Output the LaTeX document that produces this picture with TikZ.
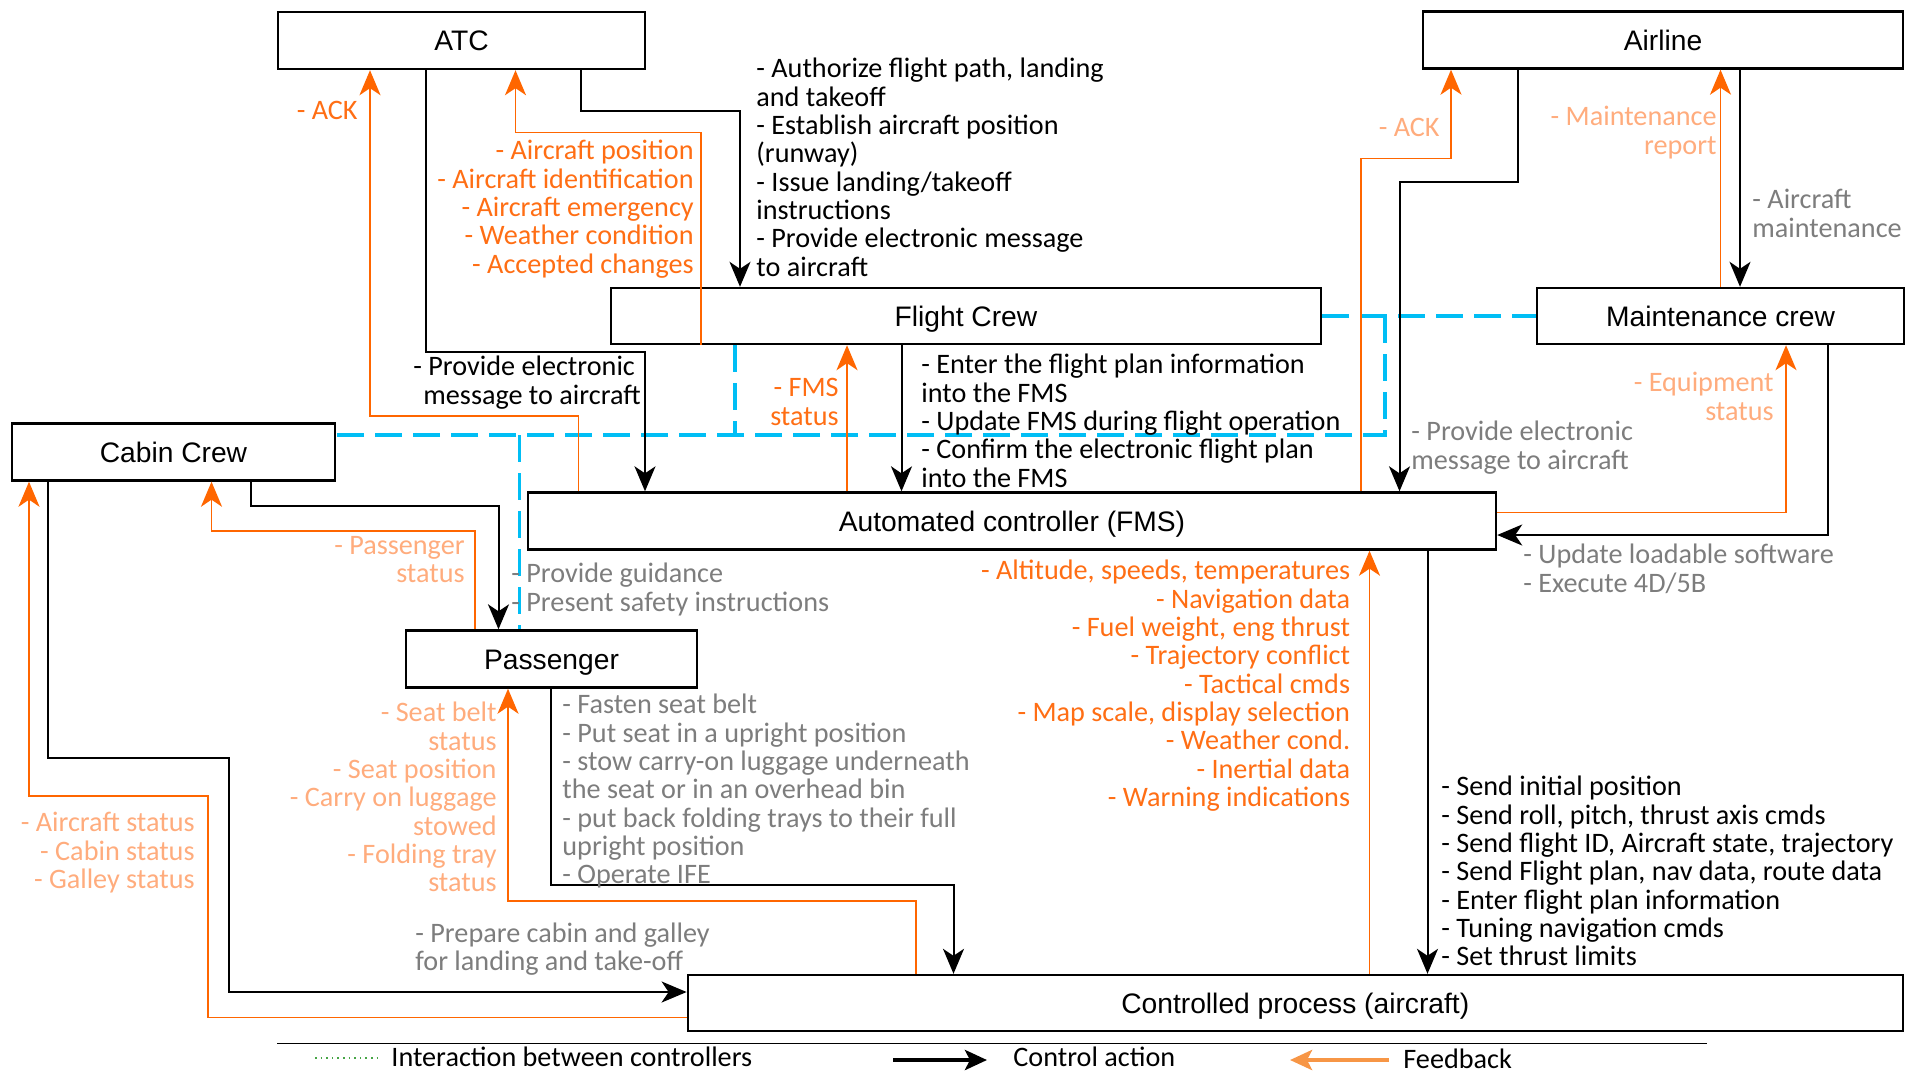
\documentclass[tikz,border=0pt]{standalone}
\usepackage{fontspec}
\setmainfont{Carlito}
\newfontfamily\boxfont{Liberation Sans}
\usetikzlibrary{arrows.meta}
\definecolor{fborange}{RGB}{255,102,0}
\definecolor{fbtext}{RGB}{255,110,20}
\definecolor{linkcyan}{RGB}{0,190,245}
\definecolor{softorange}{RGB}{255,172,125}
\definecolor{softgray}{RGB}{125,125,125}
\definecolor{legendorange}{RGB}{247,150,70}
\definecolor{legendgreen}{RGB}{70,165,70}
\newcommand\lblfont{\fontsize{14.1}{14.15}\selectfont}
\begin{document}
\begin{tikzpicture}[x=0.5pt,y=-0.5pt,
  box/.style={draw, line width=1.2pt, fill=white, inner sep=0pt,
    text height=10.1pt, text depth=0pt,
    font={\boxfont\fontsize{14.1}{16}\selectfont}},
  lab/.style={inner sep=0pt, font=\lblfont, align=left},
  rlab/.style={inner sep=0pt, font=\lblfont, align=right},
  tip/.style={-{Stealth[length=12.5pt,width=10.5pt,inset=3.5pt]}},
  ctl/.style={draw=black, line width=1pt, tip},
  fb/.style={draw=fborange, line width=0.9pt, tip},
  link/.style={draw=linkcyan, line width=1.6pt, dash pattern=on 13.5pt off 5.5pt},
]
\useasboundingbox (0,0) rectangle (1915,1077);

% ---- controllers and controlled process ----
\node[box, minimum width=367*0.5pt, minimum height=57*0.5pt] (atc) at (461.5,40.5) {ATC};
\node[box, minimum width=480*0.5pt, minimum height=57*0.5pt] (airline) at (1663,40) {Airline};
\node[box, minimum width=710*0.5pt, minimum height=56*0.5pt] (fc) at (966,316) {Flight Crew};
\node[box, minimum width=367*0.5pt, minimum height=56*0.5pt] (mc) at (1720.5,316) {Maintenance crew};
\node[box, minimum width=323*0.5pt, minimum height=57*0.5pt] (cc) at (173.5,452) {Cabin Crew};
\node[box, minimum width=968*0.5pt, minimum height=57*0.5pt] (fms) at (1012,521) {Automated controller (FMS)};
\node[box, minimum width=291*0.5pt, minimum height=57*0.5pt] (pax) at (551.5,659) {Passenger};
\node[box, minimum width=1215*0.5pt, minimum height=56*0.5pt] (cp) at (1295.3,1003) {Controlled process (aircraft)};

% ---- interaction between controllers ----
\draw[link] (fc.east) -- (mc.west);
\draw[link] (1385,316) |- (cc.east |- 0,435);
\draw[link] (735,0 |- fc.south) -- (735,435);
\draw[link] (519.5,435) -- (519.5,0 |- pax.north);

% ---- control actions ----
\draw[ctl] (581,0 |- atc.south) |- (740,111) -- (740,0 |- fc.north);
\draw[ctl] (426,0 |- atc.south) |- (645,352) -- (645,0 |- fms.north);
\draw[ctl] (901.5,0 |- fc.south) -- (901.5,0 |- fms.north);
\draw[ctl] (1517.5,0 |- airline.south) |- (1399.5,182) -- (1399.5,0 |- fms.north);
\draw[ctl] (1740,0 |- airline.south) -- (1740,0 |- mc.north);
\draw[ctl] (1827.5,0 |- mc.south) |- (fms.east |- 0,535);
\draw[ctl] (250.5,0 |- cc.south) |- (498.5,506) -- (498.5,0 |- pax.north);
\draw[ctl] (48,0 |- cc.south) |- (228.5,758) |- (cp.west |- 0,992);
\draw[ctl] (551,0 |- pax.south) |- (953.5,884.5) -- (953.5,0 |- cp.north);
\draw[ctl] (1427.5,0 |- fms.south) -- (1427.5,0 |- cp.north);

% ---- feedback ----
\draw[fb] (701,0 |- fc.south) |- (515.5,132.5) -- (515.5,0 |- atc.south);
\draw[fb] (578.5,0 |- fms.north) |- (370,416) -- (370,0 |- atc.south);
\draw[fb] (847,0 |- fms.north) -- (847,0 |- fc.south);
\draw[fb] (1361,0 |- fms.north) |- (1451,158.5) -- (1451,0 |- airline.south);
\draw[fb] (1720.5,0 |- mc.north) -- (1720.5,0 |- airline.south);
\draw[fb] (fms.east |- 0,512.5) -| (1786,0 |- mc.south);
\draw[fb] (475,0 |- pax.north) |- (211.5,531) -- (211.5,0 |- cc.south);
\draw[fb] (916,0 |- cp.north) |- (508,901) -- (508,0 |- pax.south);
\draw[fb] (cp.west |- 0,1017.5) -| (208,796) -| (29,0 |- cc.south);
\draw[fb] (1369.5,0 |- cp.north) -- (1369.5,0 |- fms.south);

% ---- labels: ATC ----
\node[rlab, text=fbtext, anchor=north east] (l-ack1) at (358,101) {- ACK};
\node[rlab, text=fbtext, anchor=north east] (l-atcfb) at (694,140)
  {- Aircraft position\\- Aircraft identification\\- Aircraft emergency\\- Weather condition\\- Accepted changes};
\node[lab, anchor=north west] (l-atcfc) at (756,58)
  {- Authorize flight path, landing\\and takeoff\\- Establish aircraft position\\(runway)\\- Issue landing/takeoff\\instructions\\- Provide electronic message\\to aircraft};
\node[lab, anchor=north west] (l-atcfms) at (413,356)
  {- Provide electronic\\\hspace{5pt}message to aircraft};

% ---- labels: flight crew / FMS ----
\node[rlab, text=fbtext, anchor=north east] (l-fmsst) at (839,378) {- FMS\\status};
\node[lab, anchor=north west] (l-fcfms) at (921,354)
  {- Enter the flight plan information\\into the FMS\\- Update FMS during flight operation\\- Confirm the electronic flight plan\\into the FMS};
\node[rlab, text=fbtext, anchor=north east] (l-cpfb) at (1350.5,560)
  {- Altitude, speeds, temperatures\\- Navigation data\\- Fuel weight, eng thrust\\- Trajectory conflict\\- Tactical cmds\\- Map scale, display selection\\- Weather cond.\\- Inertial data\\- Warning indications\hspace{3.5pt}};
\node[lab, anchor=north west] (l-fmscp) at (1441,776)
  {- Send initial position\\- Send roll, pitch, thrust axis cmds\\- Send flight ID, Aircraft state, trajectory\\- Send Flight plan, nav data, route data\\- Enter flight plan information\\- Tuning navigation cmds\\- Set thrust limits};

% ---- labels: airline / maintenance ----
\node[rlab, text=softorange, anchor=north east] (l-ack2) at (1440,118) {- ACK};
\node[rlab, text=softorange, anchor=north east] (l-mrep) at (1717,106) {- Maintenance\\report};
\node[lab, text=softgray, anchor=north west] (l-amnt) at (1752,189) {- Aircraft\\maintenance};
\node[rlab, text=softorange, anchor=north east] (l-equip) at (1774,372) {- Equipment\\status};
\node[lab, text=softgray, anchor=north west] (l-almsg) at (1411,421) {- Provide electronic\\message to aircraft};
\node[lab, text=softgray, anchor=north west] (l-upd) at (1523,544) {- Update loadable software\\- Execute 4D/5B};

% ---- labels: cabin crew / passenger ----
\node[rlab, text=softorange, anchor=north east] (l-paxst) at (465,536) {- Passenger\\status};
\node[lab, text=softgray, anchor=north west] (l-guide) at (511,563) {- Provide guidance\\- Present safety instructions};
\node[rlab, text=softorange, anchor=north east] (l-paxfb) at (497,702)
  {- Seat belt\\status\\- Seat position\\- Carry on luggage\\stowed\\- Folding tray\\status};
\node[rlab, text=softorange, anchor=north east] (l-ccfb) at (195,812)
  {- Aircraft status\\- Cabin status\\- Galley status};
\node[lab, text=softgray, anchor=north west] (l-paxcp) at (562,694)
  {- Fasten seat belt\\- Put seat in a upright position\\- stow carry-on luggage underneath\\the seat or in an overhead bin\\- put back folding trays to their full\\upright position\\- Operate IFE};
\node[lab, text=softgray, anchor=north west] (l-prep) at (415,922)
  {- Prepare cabin and galley\\for landing and take-off};

% ---- legend ----
\coordinate (rule-l) at (277,1043.5);
\coordinate (rule-r) at (1707,1043.5);
\draw[line width=0.8pt] (rule-l) -- (rule-r);
\coordinate (lg-a) at (315,1058);
\coordinate (lg-b) at (379,1058);
\draw[legendgreen, line width=0.8pt, dotted] (lg-a) -- (lg-b);
\node[lab, anchor=west] (lg-int) at (391,1057) {Interaction between controllers};
\coordinate (lc-a) at (893,1060);
\coordinate (lc-b) at (987,1060);
\draw[line width=2.2pt, -{Stealth[length=11pt,width=10pt,inset=2.5pt]}] (lc-a) -- (lc-b);
\node[lab, anchor=west] (lg-ctl) at (1013,1057) {Control action};
\coordinate (lf-a) at (1389,1060);
\coordinate (lf-b) at (1290,1060);
\draw[legendorange, line width=2.2pt, -{Stealth[length=11pt,width=10pt,inset=2.5pt]}] (lf-a) -- (lf-b);
\node[lab, anchor=west] (lg-fb) at (1403,1059) {Feedback};
\end{tikzpicture}
\end{document}
